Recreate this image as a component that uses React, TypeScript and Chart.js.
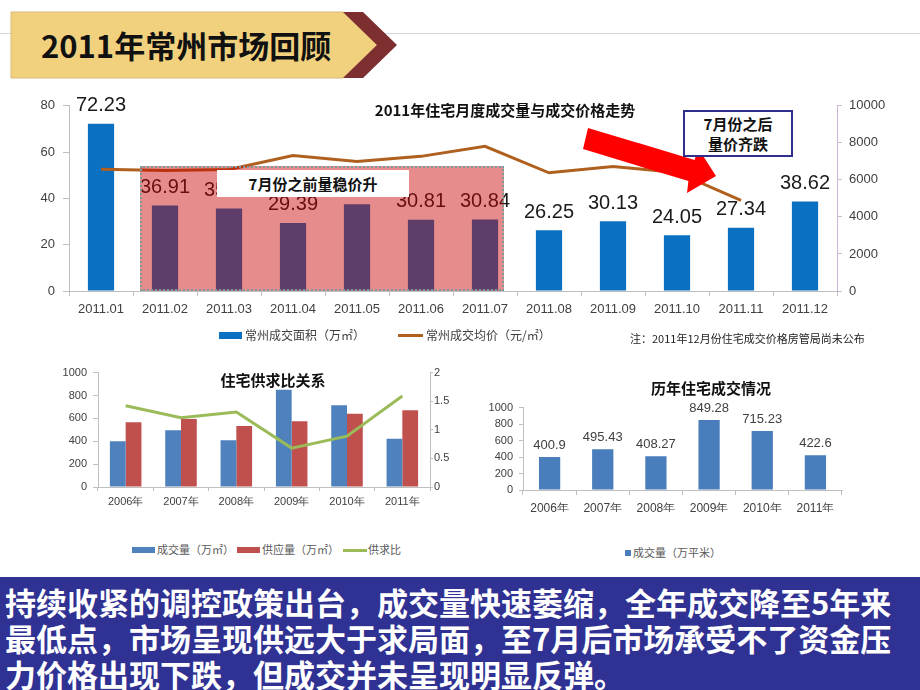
import React, { useEffect, useRef } from 'react';
import { Chart, registerables } from 'chart.js';
Chart.register(...registerables);

// ---------- data ----------
const months = ['2011.01', '2011.02', '2011.03', '2011.04', '2011.05', '2011.06', '2011.07', '2011.08', '2011.09', '2011.10', '2011.11', '2011.12'];
const areaValues = [72.23, 36.91, 35.6, 29.39, 37.5, 30.81, 30.84, 26.25, 30.13, 24.05, 27.34, 38.62];
const priceValues: (number | null)[] = [6580, 6510, 6560, 7310, 6990, 7270, 7810, 6380, 6720, 6400, 4890, null];
const areaAxisMax = 80;
const areaAxisStep = 20;
const priceAxisMax = 10000;
const priceAxisStep = 2000;

const years = ['2006年', '2007年', '2008年', '2009年', '2010年', '2011年'];
const salesValues = [400.9, 495.43, 408.27, 849.28, 715.23, 422.6];
const supplyValues = [566, 595, 534, 575, 641, 670];
const ratioValues = [1.42, 1.21, 1.31, 0.68, 0.89, 1.59];
const volumeAxisMax = 1000;
const volumeAxisStep = 200;
const ratioAxisMax = 2;
const ratioAxisStep = 0.5;

const SANS = "'Liberation Sans', Arial, sans-serif";
const CJK = "'Noto Sans CJK SC', 'Noto Sans', sans-serif";
const plain = (v: any) => String(v);

const barLabelPlugin = {
  id: 'barLabels',
  afterDatasetsDraw(chart: any, _args: any, opts: any) {
    if (!opts || !opts.enabled) return;
    const ctx = chart.ctx;
    const meta = chart.getDatasetMeta(opts.datasetIndex);
    const data = chart.data.datasets[opts.datasetIndex].data;
    ctx.save();
    ctx.font = opts.font;
    ctx.fillStyle = opts.color;
    ctx.textAlign = 'center';
    ctx.textBaseline = 'bottom';
    meta.data.forEach((el: any, i: number) => {
      const v = data[i];
      if (v == null) return;
      const txt = opts.fixed != null ? Number(v).toFixed(opts.fixed) : String(v);
      ctx.fillText(txt, el.x, el.y - opts.offset);
    });
    ctx.restore();
  },
};

export default function App() {
  const mainRef = useRef<HTMLCanvasElement>(null);
  const leftRef = useRef<HTMLCanvasElement>(null);
  const rightRef = useRef<HTMLCanvasElement>(null);

  useEffect(() => {
    const charts: Chart[] = [];
    const axisGray = '#bfbfbf';

    // ---------- main monthly chart ----------
    if (mainRef.current) {
      charts.push(
        new Chart(mainRef.current, {
          type: 'bar',
          data: {
            labels: months,
            datasets: [
              {
                type: 'line',
                label: '常州成交均价（元/㎡）',
                data: priceValues,
                yAxisID: 'y1',
                borderColor: '#b0601e',
                borderWidth: 3,
                pointRadius: 0,
                tension: 0,
                order: 0,
              } as any,
              {
                type: 'bar',
                label: '常州成交面积（万㎡）',
                data: areaValues,
                yAxisID: 'y',
                backgroundColor: '#0a70c2',
                categoryPercentage: 1,
                barPercentage: 0.41,
                order: 1,
              },
            ],
          },
          options: {
            responsive: false,
            animation: false,
            devicePixelRatio: 1,
            layout: { padding: { top: 0, left: 0, right: 0, bottom: 0 } },
            plugins: {
              legend: { display: false },
              tooltip: { enabled: false },
              barLabels: { enabled: true, datasetIndex: 1, font: `20px ${SANS}`, color: '#1a1a1a', offset: 8, fixed: 2 },
            } as any,
            scales: {
              x: {
                grid: { offset: true, drawOnChartArea: false, tickLength: 5, color: axisGray },
                border: { color: axisGray },
                ticks: { font: { size: 13, family: SANS }, color: '#404040', padding: 6, maxRotation: 0, autoSkip: false },
                afterFit: (s: any) => { s.height = 29; },
              },
              y: {
                position: 'left',
                min: 0,
                max: areaAxisMax,
                ticks: { stepSize: areaAxisStep, font: { size: 13, family: SANS }, color: '#404040', padding: 8, callback: plain },
                grid: { drawOnChartArea: false, tickLength: 6, color: axisGray },
                border: { color: axisGray },
                afterFit: (s: any) => { s.width = 69; },
              },
              y1: {
                position: 'right',
                min: 0,
                max: priceAxisMax,
                ticks: { stepSize: priceAxisStep, font: { size: 13, family: SANS }, color: '#404040', padding: 7, callback: plain },
                grid: { drawOnChartArea: false, tickLength: 5, color: '#cbb6d8' },
                border: { color: '#cbb6d8' },
                afterFit: (s: any) => { s.width = 83; },
              },
            },
          },
          plugins: [barLabelPlugin],
        })
      );
    }

    // ---------- supply / demand chart ----------
    if (leftRef.current) {
      charts.push(
        new Chart(leftRef.current, {
          type: 'bar',
          data: {
            labels: years,
            datasets: [
              {
                type: 'line',
                label: '供求比',
                data: ratioValues,
                yAxisID: 'y1',
                borderColor: '#9bbb59',
                borderWidth: 3,
                pointRadius: 0,
                tension: 0,
                order: 0,
              } as any,
              {
                label: '成交量（万㎡）',
                data: salesValues,
                yAxisID: 'y',
                backgroundColor: '#4f81bd',
                categoryPercentage: 0.57,
                barPercentage: 1,
                order: 1,
              },
              {
                label: '供应量（万㎡）',
                data: supplyValues,
                yAxisID: 'y',
                backgroundColor: '#c0504d',
                categoryPercentage: 0.57,
                barPercentage: 1,
                order: 1,
              },
            ],
          },
          options: {
            responsive: false,
            animation: false,
            devicePixelRatio: 1,
            layout: { padding: { top: 10, left: 0, right: 0, bottom: 0 } },
            plugins: { legend: { display: false }, tooltip: { enabled: false } },
            scales: {
              x: {
                grid: { offset: true, drawOnChartArea: false, tickLength: 4, color: axisGray },
                border: { color: axisGray },
                ticks: { font: { size: 11, family: SANS }, color: '#404040', padding: 4, maxRotation: 0, autoSkip: false },
                afterFit: (s: any) => { s.height = 23; },
              },
              y: {
                position: 'left',
                min: 0,
                max: volumeAxisMax,
                ticks: { stepSize: volumeAxisStep, font: { size: 11, family: SANS }, color: '#404040', padding: 6, callback: plain },
                grid: { drawOnChartArea: false, tickLength: 5, color: axisGray },
                border: { color: axisGray },
                afterFit: (s: any) => { s.width = 58; },
              },
              y1: {
                position: 'right',
                min: 0,
                max: ratioAxisMax,
                ticks: { stepSize: ratioAxisStep, font: { size: 11, family: SANS }, color: '#404040', padding: 1, callback: plain },
                grid: { drawOnChartArea: false, tickLength: 3, color: axisGray },
                border: { color: axisGray },
                afterFit: (s: any) => { s.width = 30; },
              },
            },
          },
        })
      );
    }

    // ---------- yearly volume chart ----------
    if (rightRef.current) {
      charts.push(
        new Chart(rightRef.current, {
          type: 'bar',
          data: {
            labels: years,
            datasets: [
              {
                label: '成交量（万平米）',
                data: salesValues,
                backgroundColor: '#4a7dbb',
                categoryPercentage: 1,
                barPercentage: 0.4,
              },
            ],
          },
          options: {
            responsive: false,
            animation: false,
            devicePixelRatio: 1,
            layout: { padding: { top: 12, left: 0, right: 8, bottom: 0 } },
            plugins: {
              legend: { display: false },
              tooltip: { enabled: false },
              barLabels: { enabled: true, datasetIndex: 0, font: `13px ${SANS}`, color: '#404040', offset: 5 },
            } as any,
            scales: {
              x: {
                grid: { offset: true, drawOnChartArea: false, tickLength: 5, color: axisGray },
                border: { color: axisGray },
                ticks: { font: { size: 12, family: SANS }, color: '#404040', padding: 6, maxRotation: 0, autoSkip: false },
                afterFit: (s: any) => { s.height = 22; },
              },
              y: {
                min: 0,
                max: volumeAxisMax,
                ticks: { stepSize: volumeAxisStep, font: { size: 11, family: SANS }, color: '#404040', padding: 6, callback: plain },
                grid: { drawOnChartArea: false, tickLength: 4, color: axisGray },
                border: { color: axisGray },
                afterFit: (s: any) => { s.width = 53; },
              },
            },
          },
          plugins: [barLabelPlugin],
        })
      );
    }

    return () => charts.forEach((c) => c.destroy());
  }, []);

  const abs = (s: React.CSSProperties): React.CSSProperties => ({ position: 'absolute', ...s });
  const legendText: React.CSSProperties = { fontFamily: CJK, fontSize: 12, color: '#404040', whiteSpace: 'nowrap', lineHeight: '14px' };
  const smallLegend: React.CSSProperties = { fontFamily: CJK, fontSize: 11, color: '#595959', whiteSpace: 'nowrap', lineHeight: '13px' };

  return (
    <div style={abs({ left: 0, top: 0, width: 920, height: 690, overflow: 'hidden', background: '#ffffff' })}>
      {/* title banner */}
      <div style={abs({ left: 0, top: 33, width: 920, height: 1, background: '#d9d9d9' })} />
      <svg style={abs({ left: 0, top: 0 })} width={420} height={90}>
        <polygon points="11,12 343,12 377,45 343,78 11,78" fill="#f2d17e" stroke="#d9b97a" strokeWidth={1} />
        <polygon points="343,12 363,12 397,45 363,78 343,78 377,45" fill="#7d2f2f" />
      </svg>
      <div style={abs({ left: 41, top: 26, fontFamily: CJK, fontWeight: 700, fontSize: 31, lineHeight: '38px', color: '#111', whiteSpace: 'nowrap' })}>
        2011年常州市场回顾
      </div>

      {/* main chart */}
      <canvas ref={mainRef} width={920} height={230} style={abs({ left: 0, top: 90, width: 920, height: 230 })} />
      <div style={abs({ left: 140, top: 166, width: 364, height: 125, background: 'rgba(200,0,0,0.45)', border: '2px dotted #7a9e9e', boxSizing: 'border-box' })} />
      <div style={abs({ left: 217, top: 170, width: 192, height: 27, background: '#ffffff', fontFamily: CJK, fontWeight: 700, fontSize: 15, lineHeight: '27px', textAlign: 'center', color: '#111' })}>
        7月份之前量稳价升
      </div>
      <div style={abs({ left: 340, top: 99, width: 330, textAlign: 'center', fontFamily: CJK, fontWeight: 700, fontSize: 15, lineHeight: '22px', color: '#111', whiteSpace: 'nowrap' })}>
        2011年住宅月度成交量与成交价格走势
      </div>
      <svg style={abs({ left: 0, top: 0 })} width={920} height={330}>
        <polygon points="588,128 694.6,159.9 698,148 716,176 687,193 688.4,181.1 583,149" fill="#ff0000" />
      </svg>
      <div style={abs({ left: 683, top: 110, width: 110, height: 47, border: '2px solid #2e2e8c', boxSizing: 'border-box', background: '#ffffff', fontFamily: CJK, fontWeight: 700, fontSize: 15, lineHeight: '20px', textAlign: 'center', color: '#111', paddingTop: 2 })}>
        7月份之后<br />量价齐跌
      </div>

      {/* main legend */}
      <div style={abs({ left: 219, top: 332, width: 23, height: 7, background: '#0a70c2' })} />
      <div style={abs({ left: 245, top: 328, ...legendText })}>常州成交面积（万㎡）</div>
      <div style={abs({ left: 398, top: 334, width: 25, height: 3, background: '#b0601e' })} />
      <div style={abs({ left: 426, top: 328, ...legendText })}>常州成交均价（元/㎡）</div>
      <div style={abs({ left: 630, top: 331, fontFamily: CJK, fontSize: 11, color: '#222', whiteSpace: 'nowrap', lineHeight: '14px' })}>
        注：2011年12月份住宅成交价格房管局尚未公布
      </div>

      {/* supply/demand chart */}
      <canvas ref={leftRef} width={420} height={150} style={abs({ left: 40, top: 360, width: 420, height: 150 })} />
      <div style={abs({ left: 173, top: 369, width: 200, textAlign: 'center', fontFamily: CJK, fontWeight: 700, fontSize: 15, lineHeight: '22px', color: '#111' })}>
        住宅供求比关系
      </div>
      <div style={abs({ left: 132, top: 547, width: 23, height: 6, background: '#4f81bd' })} />
      <div style={abs({ left: 157, top: 543, ...smallLegend })}>成交量（万㎡）</div>
      <div style={abs({ left: 237, top: 547, width: 23, height: 6, background: '#c0504d' })} />
      <div style={abs({ left: 262, top: 543, ...smallLegend })}>供应量（万㎡）</div>
      <div style={abs({ left: 343, top: 549, width: 24, height: 3, background: '#9bbb59' })} />
      <div style={abs({ left: 368, top: 543, ...smallLegend })}>供求比</div>

      {/* yearly volume chart */}
      <canvas ref={rightRef} width={380} height={117} style={abs({ left: 470, top: 395, width: 380, height: 117 })} />
      <div style={abs({ left: 611, top: 377, width: 200, textAlign: 'center', fontFamily: CJK, fontWeight: 700, fontSize: 15, lineHeight: '22px', color: '#111' })}>
        历年住宅成交情况
      </div>
      <div style={abs({ left: 625, top: 550, width: 6, height: 6, background: '#4a7dbb' })} />
      <div style={abs({ left: 633, top: 546, ...smallLegend })}>成交量（万平米）</div>

      {/* bottom text box */}
      <div style={abs({ left: 0, top: 577, width: 920, height: 113, background: '#2f3193', color: '#ffffff', fontFamily: CJK, fontWeight: 700, fontSize: 31, lineHeight: '36px', paddingLeft: 5, paddingTop: 7, boxSizing: 'border-box', whiteSpace: 'nowrap' })}>
        持续收紧的调控政策出台，成交量快速萎缩，全年成交降至5年来<br />
        最低点，市场呈现供远大于求局面，至7月后市场承受不了资金压<br />
        力价格出现下跌，但成交并未呈现明显反弹。
      </div>
    </div>
  );
}
